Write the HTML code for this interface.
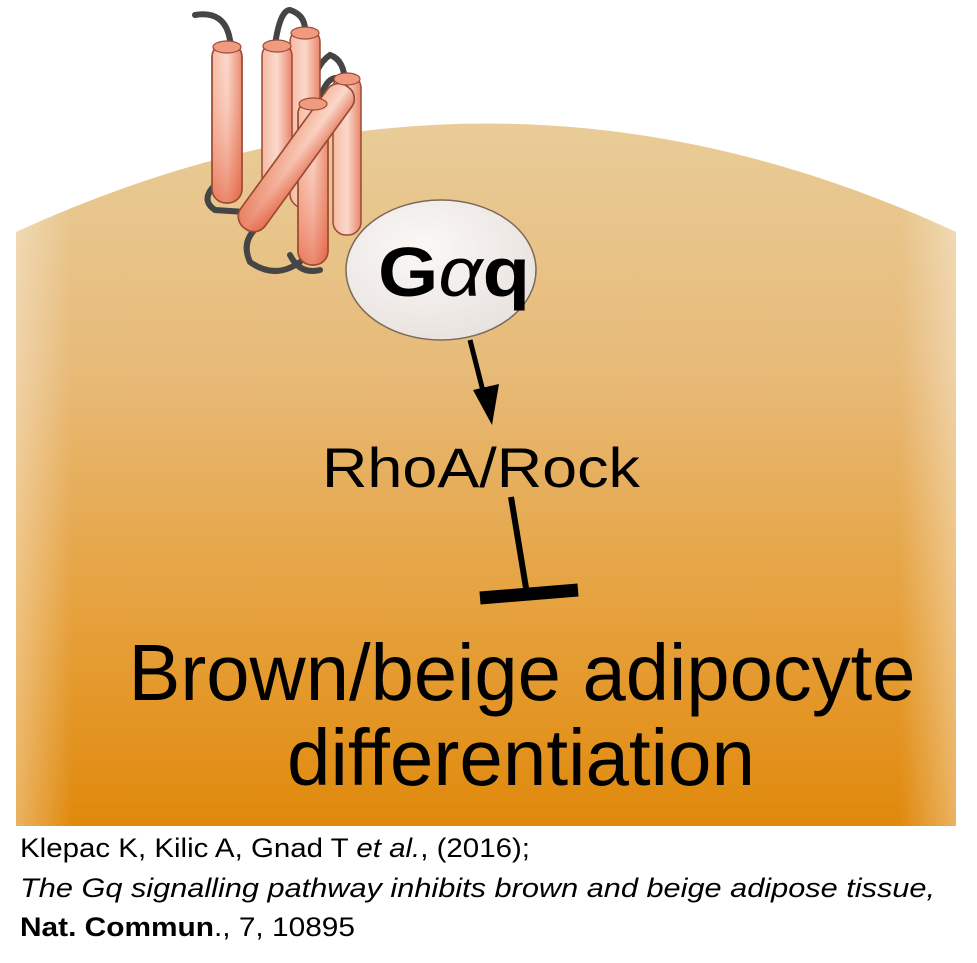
<!DOCTYPE html>
<html><head><style>
html,body{margin:0;padding:0;background:#fff;}
svg{display:block;}
</style></head><body>
<svg width="977" height="963" viewBox="0 0 977 963" xmlns="http://www.w3.org/2000/svg">
<defs>
<linearGradient id="bg" x1="0" y1="0" x2="0" y2="1">
<stop offset="0" stop-color="#e9cc98"/>
<stop offset="0.35" stop-color="#e7ba78"/>
<stop offset="0.7" stop-color="#e6a13c"/>
<stop offset="1" stop-color="#e0890c"/>
</linearGradient>
<linearGradient id="side" x1="0" y1="0" x2="1" y2="0">
<stop offset="0" stop-color="#fff" stop-opacity="0.35"/>
<stop offset="0.06" stop-color="#fff" stop-opacity="0"/>
<stop offset="0.94" stop-color="#fff" stop-opacity="0"/>
<stop offset="1" stop-color="#fff" stop-opacity="0.35"/>
</linearGradient>
<linearGradient id="cyl" x1="0" y1="0" x2="1" y2="0">
<stop offset="0" stop-color="#f5b9a0"/>
<stop offset="0.5" stop-color="#fbd9cc"/>
<stop offset="1" stop-color="#e9866a"/>
</linearGradient>
<linearGradient id="cylv" x1="0" y1="0" x2="0" y2="1">
<stop offset="0" stop-color="#fbd4c4" stop-opacity="0"/>
<stop offset="1" stop-color="#e0502a" stop-opacity="0.6"/>
</linearGradient>
<radialGradient id="ell" cx="0.4" cy="0.35" r="0.7">
<stop offset="0" stop-color="#fbf8f6"/>
<stop offset="1" stop-color="#e8e2de"/>
</radialGradient>
</defs>
<path d="M16,232 Q488,15 956,232 V826 H16 Z" fill="url(#bg)"/>
<path d="M16,232 Q488,15 956,232 V826 H16 Z" fill="url(#side)"/>

<g fill="none" stroke="#454545" stroke-width="6" stroke-linecap="round">
<path d="M215,185 Q200,200 215,210 L245,212"/>
<path d="M260,225 Q240,240 250,262 Q275,280 300,262"/>
<path d="M290,255 Q300,275 320,270"/>
<path d="M195,15 Q225,10 230,40 L232,50"/>
<path d="M275,45 Q280,10 290,10 Q305,15 305,30"/>
<path d="M310,95 Q315,65 330,55 Q345,60 345,85"/>
<path d="M320,100 Q325,80 335,78"/>
</g>
<g stroke="#9a4a35" stroke-width="1.5">
<rect x="290" y="28" width="30" height="180" rx="14" fill="url(#cyl)"/>
<rect x="333" y="75" width="28" height="160" rx="13" fill="url(#cyl)"/>
<rect x="212" y="43" width="30" height="160" rx="14" fill="url(#cyl)"/>
<rect x="212" y="43" width="30" height="160" rx="14" fill="url(#cylv)"/>
<rect x="262" y="42" width="30" height="150" rx="14" fill="url(#cyl)"/>
<rect x="298" y="100" width="30" height="165" rx="14" fill="url(#cyl)"/>
<rect x="298" y="100" width="30" height="165" rx="14" fill="url(#cylv)"/>
<g transform="rotate(36 296 158)">
<rect x="281" y="70" width="30" height="175" rx="14" fill="url(#cyl)"/>
<rect x="281" y="70" width="30" height="175" rx="14" fill="url(#cylv)"/>
</g>
</g>
<g fill="#f09a80" stroke="#9a4a35" stroke-width="1.2">
<ellipse cx="227" cy="47" rx="14" ry="6"/>
<ellipse cx="277" cy="46" rx="14" ry="6"/>
<ellipse cx="305" cy="33" rx="14" ry="6"/>
<ellipse cx="347" cy="79" rx="13" ry="6"/>
<ellipse cx="313" cy="104" rx="14" ry="6"/>
</g>

<ellipse cx="441" cy="270" rx="95" ry="70" fill="url(#ell)" stroke="#7a6a5a" stroke-width="1.5"/>
<text x="454" y="296" text-anchor="middle" font-family="Liberation Sans, sans-serif" font-weight="bold" font-size="70" textLength="152" lengthAdjust="spacingAndGlyphs">G<tspan font-style="italic" font-weight="normal">α</tspan>q</text>

<line x1="470" y1="340" x2="484" y2="395" stroke="#000" stroke-width="5"/>
<polygon points="473,390 499,384 492,425" fill="#000"/>
<text x="481" y="487" text-anchor="middle" font-family="Liberation Sans, sans-serif" font-size="56" textLength="318" lengthAdjust="spacingAndGlyphs">RhoA/Rock</text>
<line x1="511" y1="497" x2="527" y2="594" stroke="#000" stroke-width="6"/>
<line x1="480" y1="598" x2="578" y2="590" stroke="#000" stroke-width="13"/>

<text x="522" y="700" text-anchor="middle" font-family="Liberation Sans, sans-serif" font-size="80" textLength="787" lengthAdjust="spacingAndGlyphs">Brown/beige adipocyte</text>
<text x="521" y="785" text-anchor="middle" font-family="Liberation Sans, sans-serif" font-size="80" textLength="468" lengthAdjust="spacingAndGlyphs">differentiation</text>

<g font-family="Liberation Sans, sans-serif" font-size="27" fill="#000">
<text x="20" y="857" textLength="510" lengthAdjust="spacingAndGlyphs">Klepac K, Kilic A, Gnad T <tspan font-style="italic">et al.</tspan>, (2016);</text>
<text x="20" y="897" font-style="italic" textLength="915" lengthAdjust="spacingAndGlyphs">The Gq signalling pathway inhibits brown and beige adipose tissue,</text>
<text x="20" y="936" textLength="335" lengthAdjust="spacingAndGlyphs"><tspan font-weight="bold">Nat. Commun</tspan>., 7, 10895</text>
</g>
</svg>
</body></html>
